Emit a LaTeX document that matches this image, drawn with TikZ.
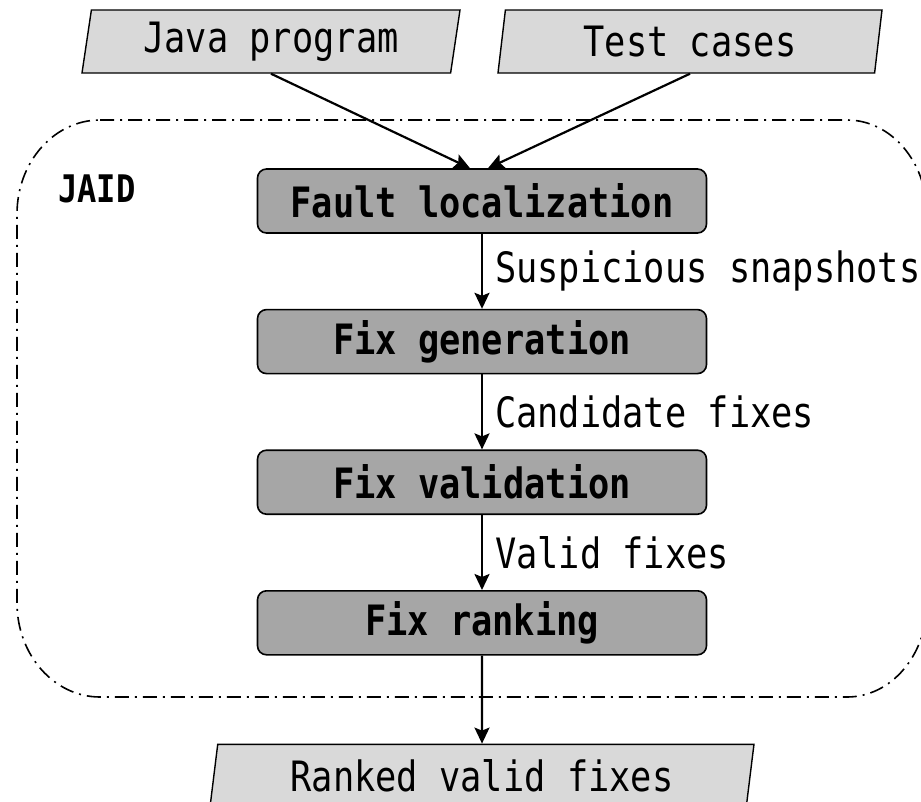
\documentclass[tikz,border=0pt]{standalone}
\usepackage{fontspec}
\usepackage{xcolor}
\usetikzlibrary{shapes.geometric,arrows.meta,positioning,calc}
\newfontfamily\jaidfont{DejaVu Sans Mono}[FakeStretch=0.845]
\definecolor{iocolor}{RGB}{217,217,217}
\definecolor{phasecolor}{RGB}{166,166,166}

\begin{document}
\begin{tikzpicture}[
    x=1pt, y=-1pt,
    node distance=75pt,
    every node/.style={font=\jaidfont\fontsize{41.8pt}{48pt}\selectfont},
    io/.style={trapezium, trapezium left angle=76.6, trapezium right angle=103.4, trapezium stretches body, fill=iocolor, draw=black, line width=1.4pt, minimum height=63pt, inner sep=0pt},
    phase/.style={rectangle, rounded corners=9pt, fill=phasecolor, draw=black, line width=1.6pt, minimum width=449pt, minimum height=64pt, inner sep=0pt, font=\jaidfont\bfseries\fontsize{41.8pt}{48pt}\selectfont},
    arrow/.style={-{Stealth[length=16pt, width=15pt, inset=3pt]}, line width=2.2pt, black},
    label/.style={midway, right, inner sep=12pt},
    frame/.style={draw=black, line width=1.6pt, dash pattern=on 14pt off 6pt on 2pt off 6pt}
]
\useasboundingbox (0,0) rectangle (921,801);

% JAID boundary
\draw[frame] (100,120) -- (847,120)
    arc[start angle=90, end angle=0, x radius=80pt, y radius=94pt] -- (927,603)
    arc[start angle=0, end angle=-90, x radius=80pt, y radius=94pt] -- (100,697)
    arc[start angle=270, end angle=180, x radius=83pt, y radius=94pt] -- (17,214)
    arc[start angle=180, end angle=90, x radius=83pt, y radius=94pt] -- cycle;
\node[font=\jaidfont\bfseries\fontsize{38pt}{44pt}\selectfont] (jaid) at (97,189) {JAID};

% Inputs
\node[io, minimum width=378pt] (java) at (271,41.5) {Java program};
\node[io, minimum width=384pt] (tests) at (690,41.5) {Test cases};

% Repair phases - arranged vertically
\node[phase] (fault) at (482,201) {Fault localization};
\node[phase, below=of fault] (generation) {Fix generation};
\node[phase, below=of generation] (validation) {Fix validation};
\node[phase, below=of validation] (ranking) {Fix ranking};

% Output
\node[io, minimum width=544pt, below=88pt of ranking] (ranked) {Ranked valid fixes};

% Inputs feed fault localization
\draw[arrow] (java.center |- java.south) -- ([xshift=-12pt]fault.north);
\draw[arrow] (tests.center |- tests.south) -- ([xshift=6pt]fault.north);

% Phase to phase
\draw[arrow] (fault) -- (generation) node[label] {Suspicious snapshots};
\draw[arrow] (generation) -- (validation) node[label] {Candidate fixes};
\draw[arrow] (validation) -- (ranking) node[label] {Valid fixes};

% Ranking gives the output
\draw[arrow] (ranking) -- (ranked);

\end{tikzpicture}
\end{document}
